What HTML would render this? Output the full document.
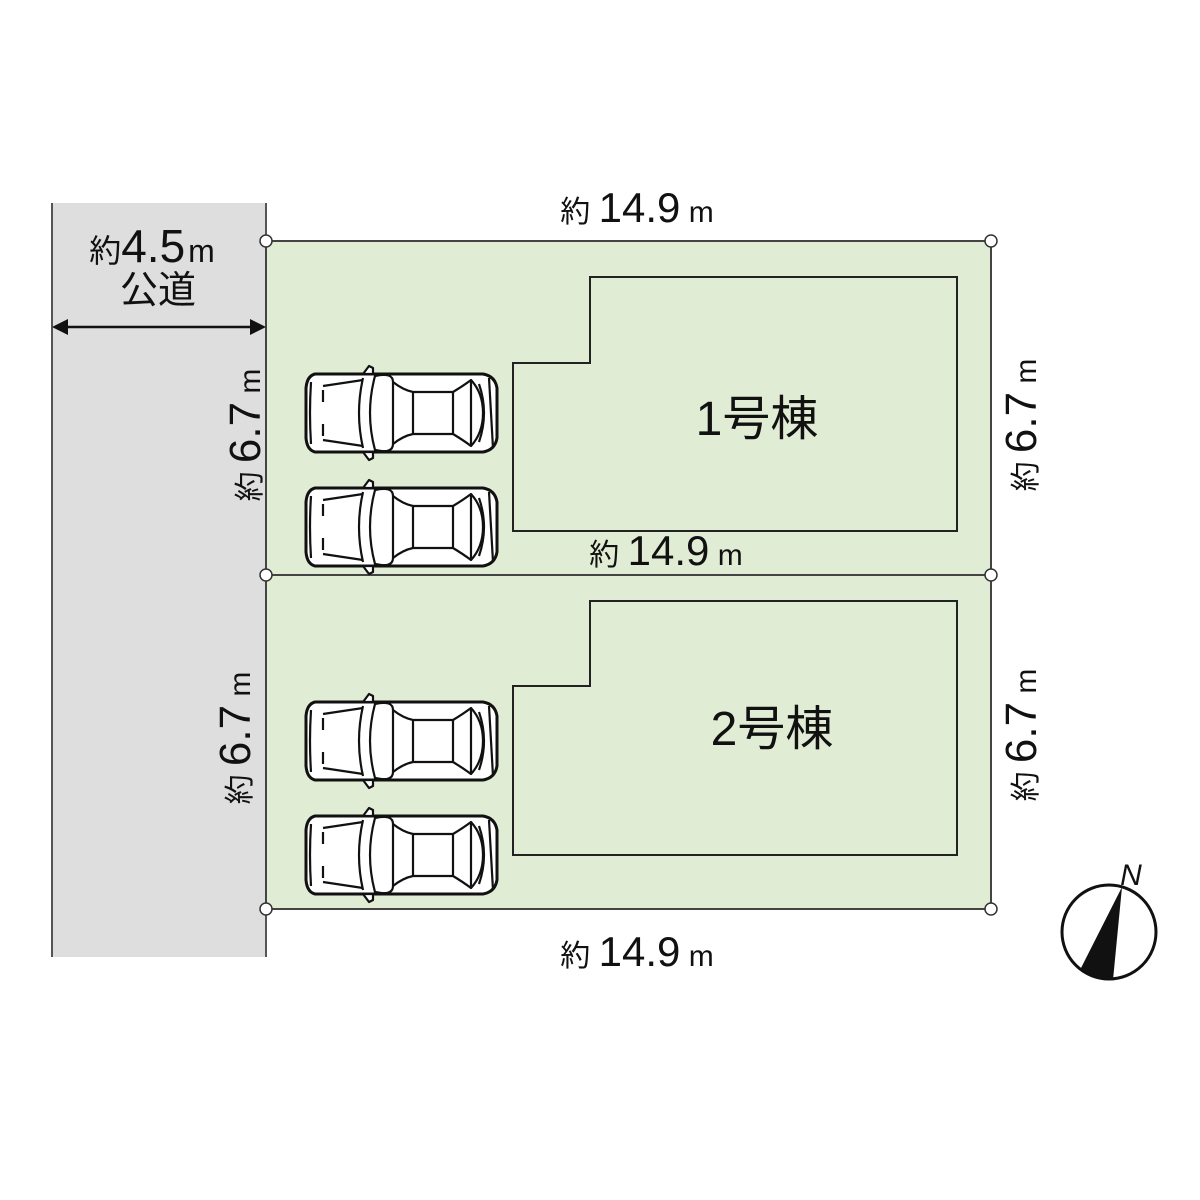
<!DOCTYPE html>
<html><head><meta charset="utf-8"><style>
html,body{margin:0;padding:0;background:#fff;}
svg{display:block;}
text{font-family:"Liberation Sans","Noto Sans CJK JP",sans-serif;fill:#111;}
</style></head><body>
<svg width="1200" height="1200" viewBox="0 0 1200 1200" xmlns="http://www.w3.org/2000/svg">
<defs>
<g id="car" fill="#fff" stroke="#111" stroke-width="2.2" stroke-linejoin="round">
  <path d="M12,6 Q4,8 3,20 L3,70 Q4,82 12,84 L180,84 Q192,82 194,70 L194,20 Q192,8 180,6 Z" stroke-width="3"/>
  <path d="M8,14 Q6,45 8,76" fill="none"/>
  <path d="M20,18 L60,12 M20,72 L60,78" fill="none"/>
  <path d="M20,22 L20,34 M20,56 L20,68" fill="none"/>
  <path d="M72,8 Q90,4 90,14 L90,76 Q90,86 72,82 Q62,45 72,8 Z" fill="none"/>
  <path d="M60,10 Q52,45 60,80" fill="none"/>
  <path d="M90,14 Q100,22 110,24 L150,24 Q160,18 168,12 L168,78 Q160,72 150,66 L110,66 Q100,68 90,76" fill="none"/>
  <path d="M110,24 L110,66 M150,24 L150,66" fill="none"/>
  <path d="M168,12 Q180,25 180,45 Q180,65 168,78" fill="none"/>
  <path d="M176,16 Q186,45 176,74" fill="none"/>
  <path d="M186,10 L190,80" fill="none"/>
  <path d="M60,6 L66,-2 L70,0 L70,6 Z"/>
  <path d="M60,84 L66,92 L70,90 L70,84 Z"/>
  <path d="M30,6 L160,6 M30,84 L160,84" fill="none" stroke-width="1"/>
</g>
</defs>
<rect x="52" y="203" width="214" height="754" fill="#dedede"/>
<line x1="52" y1="203" x2="52" y2="957" stroke="#555" stroke-width="2"/>
<line x1="266" y1="203" x2="266" y2="957" stroke="#555" stroke-width="2"/>
<rect x="266" y="241" width="725" height="668" fill="#e1ecd4" stroke="#444" stroke-width="2"/>
<line x1="266" y1="575" x2="991" y2="575" stroke="#444" stroke-width="2"/>
<path d="M513,363 L590,363 L590,277 L957,277 L957,531 L513,531 Z" fill="none" stroke="#222" stroke-width="2"/>
<path d="M513,686 L590,686 L590,601 L957,601 L957,855 L513,855 Z" fill="none" stroke="#222" stroke-width="2"/>
<g fill="#fff" stroke="#333" stroke-width="1.5">
<circle cx="266" cy="241" r="6"/><circle cx="991" cy="241" r="6"/>
<circle cx="266" cy="575" r="6"/><circle cx="991" cy="575" r="6"/>
<circle cx="266" cy="909" r="6"/><circle cx="991" cy="909" r="6"/>
</g>
<line x1="62" y1="327" x2="256" y2="327" stroke="#111" stroke-width="2.5"/>
<path d="M52,327 L68,319 L68,335 Z M266,327 L250,319 L250,335 Z" fill="#111"/>
<text x="152" y="262" text-anchor="middle"><tspan font-size="32">約</tspan><tspan font-size="46">4.5</tspan><tspan font-size="32" dx="3">m</tspan></text>
<text x="158" y="303" text-anchor="middle" font-size="38">公道</text>
<use href="#car" x="303" y="368"/>
<use href="#car" x="303" y="482"/>
<use href="#car" x="303" y="696"/>
<use href="#car" x="303" y="810"/>
<text x="757" y="435" text-anchor="middle" font-size="48">1号棟</text>
<text x="772" y="745" text-anchor="middle" font-size="48">2号棟</text>
<g text-anchor="middle">
<text x="637" y="222"><tspan font-size="30">約 </tspan><tspan font-size="42">14.9</tspan><tspan font-size="30"> m</tspan></text>
<text x="666" y="565"><tspan font-size="30">約 </tspan><tspan font-size="42">14.9</tspan><tspan font-size="30"> m</tspan></text>
<text x="637" y="966"><tspan font-size="30">約 </tspan><tspan font-size="42">14.9</tspan><tspan font-size="30"> m</tspan></text>
<text transform="translate(260,435) rotate(-90)"><tspan font-size="30">約 </tspan><tspan font-size="44">6.7</tspan><tspan font-size="30"> m</tspan></text>
<text transform="translate(250,738) rotate(-90)"><tspan font-size="30">約 </tspan><tspan font-size="44">6.7</tspan><tspan font-size="30"> m</tspan></text>
<text transform="translate(1036,425) rotate(-90)"><tspan font-size="30">約 </tspan><tspan font-size="44">6.7</tspan><tspan font-size="30"> m</tspan></text>
<text transform="translate(1036,735) rotate(-90)"><tspan font-size="30">約 </tspan><tspan font-size="44">6.7</tspan><tspan font-size="30"> m</tspan></text>
</g>
<circle cx="1109" cy="932" r="47" fill="#fff" stroke="#111" stroke-width="3"/>
<path d="M1122,887 L1080,970 Q1095,978 1113,980 Z" fill="#111"/>
<text x="1131" y="885" text-anchor="middle" font-size="30" font-style="italic">N</text>
</svg>
</body></html>
